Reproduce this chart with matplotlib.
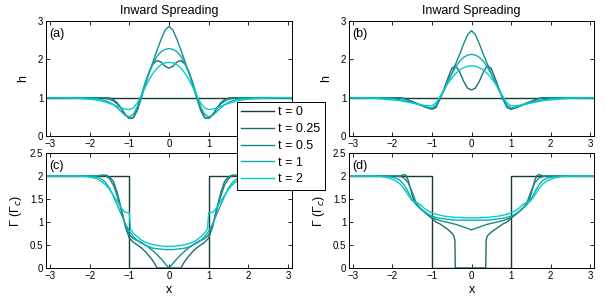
import matplotlib
matplotlib.use("Agg")
import matplotlib.pyplot as plt

plt.rcParams["font.family"] = ["Liberation Sans", "DejaVu Sans"]

# ---- data ----
times = ["t = 0", "t = 0.25", "t = 0.5", "t = 1", "t = 2"]
colors = ["#1a3a3a", "#1f6e6e", "#178a8a", "#12acac", "#00cfcf"]

x_grid = [-3.1, -2.6, -2.3, -2.1, -1.9, -1.8, -1.7, -1.6, -1.5, -1.4, -1.3, -1.2,
          -1.1, -1.0, -0.9, -0.8, -0.7, -0.6, -0.5, -0.4, -0.3, -0.2, -0.1, 0.0,
          0.1, 0.2, 0.3, 0.4, 0.5, 0.6, 0.7, 0.8, 0.9, 1.0, 1.1, 1.2, 1.3, 1.4,
          1.5, 1.6, 1.7, 1.8, 1.9, 2.1, 2.3, 2.6, 3.1]

h0_x = [-3.1, 3.1]
h0 = [1, 1]

# panel (a): h, case 1
ha_025 = [1, 1, 1, 1, 1, 1, 1, 1.0, 0.99, 0.95, 0.86, 0.72, 0.56, 0.46, 0.48, 0.70,
          1.02, 1.38, 1.68, 1.88, 1.97, 1.93, 1.82, 1.77,
          1.82, 1.93, 1.97, 1.88, 1.68, 1.38, 1.02, 0.70, 0.48, 0.46, 0.56, 0.72,
          0.86, 0.95, 0.99, 1.0, 1, 1, 1, 1, 1, 1, 1]
ha_05 = [1, 1, 1, 1, 1, 1, 0.99, 0.98, 0.96, 0.91, 0.83, 0.70, 0.55, 0.46, 0.47, 0.66,
         0.98, 1.33, 1.65, 1.95, 2.24, 2.52, 2.76, 2.86,
         2.76, 2.52, 2.24, 1.95, 1.65, 1.33, 0.98, 0.66, 0.47, 0.46, 0.55, 0.70,
         0.83, 0.91, 0.96, 0.98, 0.99, 1, 1, 1, 1, 1, 1]
ha_1 = [1, 1, 1, 0.99, 0.98, 0.97, 0.95, 0.92, 0.88, 0.82, 0.73, 0.63, 0.54, 0.50, 0.56,
        0.76, 1.06, 1.38, 1.66, 1.90, 2.08, 2.20, 2.26, 2.28,
        2.26, 2.20, 2.08, 1.90, 1.66, 1.38, 1.06, 0.76, 0.56, 0.50, 0.54, 0.63,
        0.73, 0.82, 0.88, 0.92, 0.95, 0.97, 0.98, 0.99, 1, 1, 1]
ha_2 = [1, 0.995, 0.98, 0.97, 0.95, 0.93, 0.91, 0.88, 0.85, 0.81, 0.77, 0.73, 0.70, 0.69,
        0.73, 0.86, 1.05, 1.27, 1.47, 1.64, 1.77, 1.86, 1.91, 1.92,
        1.91, 1.86, 1.77, 1.64, 1.47, 1.27, 1.05, 0.86, 0.73, 0.69, 0.70, 0.73,
        0.77, 0.81, 0.85, 0.88, 0.91, 0.93, 0.95, 0.97, 0.98, 0.995, 1]

# panel (b): h, case 2
hb_025 = [1, 1, 1, 1, 1, 1, 0.98, 0.94, 0.90, 0.86, 0.82, 0.77, 0.73, 0.70, 0.74, 0.95,
          1.22, 1.50, 1.76, 1.84, 1.67, 1.43, 1.25, 1.20,
          1.25, 1.43, 1.67, 1.84, 1.76, 1.50, 1.22, 0.95, 0.74, 0.70, 0.73, 0.77,
          0.82, 0.86, 0.90, 0.94, 0.98, 1, 1, 1, 1, 1, 1]
hb_05 = [1, 1, 1, 1, 1, 0.99, 0.97, 0.93, 0.89, 0.85, 0.81, 0.77, 0.73, 0.70, 0.76, 0.98,
         1.18, 1.41, 1.63, 1.88, 2.13, 2.40, 2.64, 2.75,
         2.64, 2.40, 2.13, 1.88, 1.63, 1.41, 1.18, 0.98, 0.76, 0.70, 0.73, 0.77,
         0.81, 0.85, 0.89, 0.93, 0.97, 0.99, 1, 1, 1, 1, 1]
hb_1 = [1, 1, 0.99, 0.98, 0.96, 0.94, 0.92, 0.90, 0.87, 0.84, 0.81, 0.78, 0.75, 0.73,
        0.80, 1.00, 1.20, 1.42, 1.62, 1.80, 1.95, 2.05, 2.11, 2.13,
        2.11, 2.05, 1.95, 1.80, 1.62, 1.42, 1.20, 1.00, 0.80, 0.73, 0.75, 0.78,
        0.81, 0.84, 0.87, 0.90, 0.92, 0.94, 0.96, 0.98, 0.99, 1, 1]
hb_2 = [1, 0.99, 0.97, 0.95, 0.93, 0.92, 0.90, 0.88, 0.86, 0.84, 0.82, 0.80, 0.79, 0.79,
        0.86, 1.02, 1.20, 1.37, 1.51, 1.63, 1.72, 1.78, 1.82, 1.83,
        1.82, 1.78, 1.72, 1.63, 1.51, 1.37, 1.20, 1.02, 0.86, 0.79, 0.79, 0.80,
        0.82, 0.84, 0.86, 0.88, 0.90, 0.92, 0.93, 0.95, 0.97, 0.99, 1]

# surfactant at t = 0 (step)
g0_x = [-3.1, -1.0, -1.0, 1.0, 1.0, 3.1]
g0 = [2, 2, 0, 0, 2, 2]

# panel (c): Gamma, case 1
gc_025_x = [-3.1, -1.8, -1.7, -1.6, -1.5, -1.4, -1.3, -1.2, -1.1, -1.0, -0.9, -0.8,
            -0.7, -0.6, -0.5, -0.4, -0.35, -0.3, 0.3, 0.35, 0.4, 0.5, 0.6, 0.7,
            0.8, 0.9, 1.0, 1.1, 1.2, 1.3, 1.4, 1.5, 1.6, 1.7, 1.8, 3.1]
gc_025 = [2, 2, 2.0, 2.02, 1.98, 1.88, 1.62, 1.28, 0.90, 0.65, 0.56, 0.50,
          0.44, 0.36, 0.26, 0.15, 0.08, 0, 0, 0.08, 0.15, 0.26, 0.36, 0.44,
          0.50, 0.56, 0.65, 0.90, 1.28, 1.62, 1.88, 1.98, 2.02, 2.0, 2, 2]
gc_05 = [2, 2, 2, 2, 2, 2, 2.02, 2.01, 1.94, 1.80, 1.55, 1.25, 0.92, 0.72, 0.64, 0.60,
         0.56, 0.50, 0.44, 0.37, 0.29, 0.20, 0.10, 0.0,
         0.10, 0.20, 0.29, 0.37, 0.44, 0.50, 0.56, 0.60, 0.64, 0.72, 0.92, 1.25,
         1.55, 1.80, 1.94, 2.01, 2.02, 2, 2, 2, 2, 2, 2]
gc_1 = [2, 2, 2, 2, 1.99, 1.97, 1.93, 1.86, 1.74, 1.56, 1.36, 1.16, 0.96, 0.80, 0.68,
        0.60, 0.54, 0.50, 0.46, 0.43, 0.42, 0.41, 0.40, 0.40,
        0.40, 0.41, 0.42, 0.43, 0.46, 0.50, 0.54, 0.60, 0.68, 0.80, 0.96, 1.16,
        1.36, 1.56, 1.74, 1.86, 1.93, 1.97, 1.99, 2, 2, 2, 2]
gc_2_x = [-3.1, -2.3, -2.1, -1.9, -1.8, -1.7, -1.6, -1.5, -1.4, -1.3, -1.2, -1.1,
          -1.0, -0.97, -0.9, -0.8, -0.7, -0.6, -0.5, -0.4, -0.3, -0.2, -0.1, 0.0,
          0.1, 0.2, 0.3, 0.4, 0.5, 0.6, 0.7, 0.8, 0.9, 0.97, 1.0, 1.1, 1.2, 1.3,
          1.4, 1.5, 1.6, 1.7, 1.8, 1.9, 2.1, 2.3, 3.1]
gc_2 = [2, 2, 1.99, 1.96, 1.93, 1.88, 1.81, 1.71, 1.58, 1.45, 1.30, 1.21,
        1.20, 0.85, 0.76, 0.68, 0.61, 0.56, 0.53, 0.51, 0.49, 0.48, 0.47, 0.47,
        0.47, 0.48, 0.49, 0.51, 0.53, 0.56, 0.61, 0.68, 0.76, 0.85, 1.20, 1.21, 1.30, 1.45,
        1.58, 1.71, 1.81, 1.88, 1.93, 1.96, 1.99, 2, 2]

# panel (d): Gamma, case 2
gd_025_x = [-3.1, -1.8, -1.75, -1.7, -1.65, -1.6, -1.55, -1.5, -1.45, -1.4, -1.3, -1.2,
            -1.1, -1.0, -0.9, -0.8, -0.7, -0.6, -0.5, -0.45, -0.42, -0.41, 0.36,
            0.37, 0.4, 0.45, 0.5, 0.6, 0.7, 0.8, 0.9, 1.0, 1.1, 1.2, 1.3, 1.4, 1.45,
            1.5, 1.55, 1.6, 1.65, 1.7, 1.75, 1.8, 3.1]
gd_025 = [2, 2, 2.02, 2.03, 2.0, 1.9, 1.75, 1.58, 1.45, 1.38, 1.30, 1.23,
          1.15, 1.08, 1.0, 0.96, 0.90, 0.84, 0.76, 0.70, 0.60, 0, 0,
          0.60, 0.70, 0.74, 0.78, 0.84, 0.90, 0.96, 1.0, 1.08, 1.15, 1.23, 1.30, 1.38, 1.45,
          1.58, 1.75, 1.9, 2.0, 2.03, 2.02, 2, 2]
gd_05 = [2, 2, 2, 2, 2.0, 1.99, 1.95, 1.85, 1.65, 1.42, 1.30, 1.22, 1.15, 1.10, 1.06,
         1.03, 1.01, 0.99, 0.97, 0.95, 0.92, 0.89, 0.86, 0.83,
         0.86, 0.89, 0.92, 0.95, 0.97, 0.99, 1.01, 1.03, 1.06, 1.10, 1.15, 1.22,
         1.30, 1.42, 1.65, 1.85, 1.95, 1.99, 2.0, 2, 2, 2, 2]
gd_1 = [2, 2, 2, 1.99, 1.95, 1.90, 1.80, 1.65, 1.48, 1.38, 1.30, 1.23, 1.17, 1.13, 1.10,
        1.08, 1.07, 1.06, 1.05, 1.04, 1.04, 1.04, 1.04, 1.04,
        1.04, 1.04, 1.04, 1.04, 1.05, 1.06, 1.07, 1.08, 1.10, 1.13, 1.17, 1.23,
        1.30, 1.38, 1.48, 1.65, 1.80, 1.90, 1.95, 1.99, 2, 2, 2]
gd_2 = [2, 2, 1.99, 1.96, 1.89, 1.82, 1.72, 1.58, 1.46, 1.43, 1.38, 1.30, 1.24, 1.20,
        1.17, 1.15, 1.13, 1.12, 1.11, 1.10, 1.10, 1.09, 1.09, 1.09,
        1.09, 1.09, 1.10, 1.10, 1.11, 1.12, 1.13, 1.15, 1.17, 1.20, 1.24, 1.30,
        1.38, 1.43, 1.46, 1.58, 1.72, 1.82, 1.89, 1.96, 1.99, 2, 2]

x_ticks = [-3, -2, -1, 0, 1, 2, 3]
h_ticks = [0, 1, 2, 3]
g_ticks = [0, 0.5, 1, 1.5, 2, 2.5]
g_ticklabels = ["0", "0.5", "1", "1.5", "2", "2.5"]


def style_axis(ax):
    ax.set_xlim(-3.1, 3.1)
    ax.set_xticks(x_ticks)
    ax.tick_params(direction="in", top=True, right=True, length=3, width=0.6,
                   labelsize=7, pad=2)
    for s in ax.spines.values():
        s.set_linewidth(0.7)


W, H = 606, 304
fig = plt.figure(figsize=(W / 100, H / 100), dpi=100)

def add_ax(l, r, t, b):
    return fig.add_axes([l / W, 1 - b / H, (r - l) / W, (b - t) / H])

ax_a = add_ax(46, 292, 21, 136)
ax_b = add_ax(349, 594, 21, 136)
ax_c = add_ax(46, 292, 153, 268)
ax_d = add_ax(349, 594, 153, 268)

lw = 1.0
handles = []
for ax, curves in [(ax_a, [ha_025, ha_05, ha_1, ha_2]), (ax_b, [hb_025, hb_05, hb_1, hb_2])]:
    ln, = ax.plot(h0_x, h0, color=colors[0], lw=lw)
    if ax is ax_a:
        handles.append(ln)
    for i, y in enumerate(curves):
        ln, = ax.plot(x_grid, y, color=colors[i + 1], lw=lw)
        if ax is ax_a:
            handles.append(ln)
    style_axis(ax)
    ax.set_ylim(0, 3)
    ax.set_yticks(h_ticks)
    ax.set_ylabel("h", fontsize=9, labelpad=6)
    ax.set_title("Inward Spreading", fontsize=9, pad=5)

ax_c.plot(g0_x, g0, color=colors[0], lw=lw)
ax_c.plot(gc_025_x, gc_025, color=colors[1], lw=lw)
ax_c.plot(x_grid, gc_05, color=colors[2], lw=lw)
ax_c.plot(x_grid, gc_1, color=colors[3], lw=lw)
ax_c.plot(gc_2_x, gc_2, color=colors[4], lw=lw)

ax_d.plot(g0_x, g0, color=colors[0], lw=lw)
ax_d.plot(gd_025_x, gd_025, color=colors[1], lw=lw)
ax_d.plot(x_grid, gd_05, color=colors[2], lw=lw)
ax_d.plot(x_grid, gd_1, color=colors[3], lw=lw)
ax_d.plot(x_grid, gd_2, color=colors[4], lw=lw)

for ax in (ax_c, ax_d):
    style_axis(ax)
    ax.set_ylim(0, 2.5)
    ax.set_yticks(g_ticks)
    ax.set_yticklabels(g_ticklabels)
    ax.set_ylabel("Γ (Γ$_c$)", fontsize=9, labelpad=4)
    ax.set_xlabel("x", fontsize=9, labelpad=2)

for ax, lab in zip((ax_a, ax_b, ax_c, ax_d), ("(a)", "(b)", "(c)", "(d)")):
    ax.text(0.015, 0.94, lab, transform=ax.transAxes, va="top", ha="left", fontsize=9)

leg = fig.legend(handles, times, loc="upper left",
                 bbox_to_anchor=(237 / W, 1 - 102 / H), borderaxespad=0,
                 fontsize=9, frameon=True, fancybox=False, framealpha=1,
                 edgecolor="black", handlelength=2.6, handletextpad=0.35,
                 labelspacing=0.38, borderpad=0.35)
leg.get_frame().set_linewidth(0.7)

fig.savefig("out.png", dpi=100)
